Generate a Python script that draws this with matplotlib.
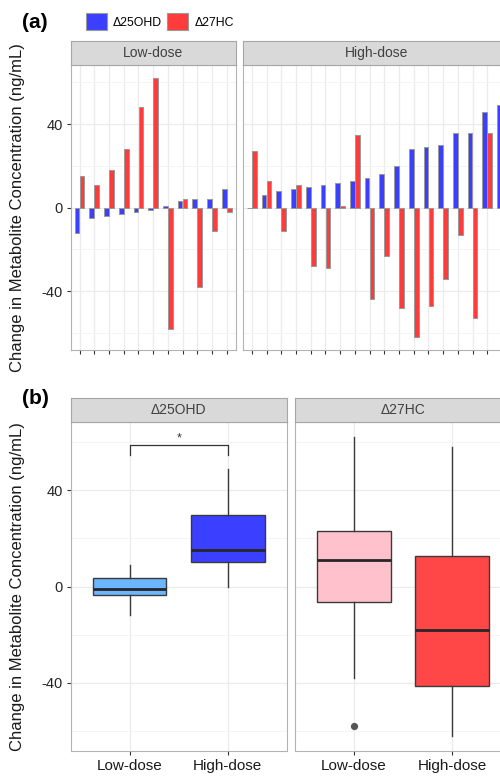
import numpy as np
import matplotlib.pyplot as plt
from matplotlib.patches import Patch

plt.rcParams['font.family'] = ['Liberation Sans', 'DejaVu Sans']
plt.rcParams['axes.unicode_minus'] = False

# per-subject change, panel (a); sorted by change in 25OHD within each dose group
low_25ohd = [-12, -5, -4, -3, -2, -1, 1, 3, 4, 4, 9]
low_27hc = [15, 11, 18, 28, 48, 62, -58, 4, -38, -11, -2]
high_25ohd = [0, 6, 8, 9, 10, 11, 12, 13, 14, 16, 20, 28, 29, 30, 36, 36, 46, 49]
high_27hc = [27, 13, -11, 11, -28, -29, 1, 35, -44, -23, -48, -62, -47, -34, -13, -53, 36, 58]

groups = ["Low-dose", "High-dose"]
metabolites = ["\u039425OHD", "\u039427HC"]
yticks = [-40, 0, 40]

blue = "#3B3FFF"
red = "#FF3B3B"
box_colors = {"\u039425OHD": ["#6CB6FF", "#3B3FFF"],
              "\u039427HC": ["#FFC2CC", "#FF4747"]}

W, H = 500, 781
fig = plt.figure(figsize=(W / 100, H / 100), dpi=100)


def px(x0, y0, x1, y1):
    # pixel box (top-left origin) -> figure fraction rect
    return [x0 / W, 1 - y1 / H, (x1 - x0) / W, (y1 - y0) / H]


def style_panel(ax, show_y):
    ax.set_facecolor("white")
    for s in ax.spines.values():
        s.set_color("#B3B3B3")
        s.set_linewidth(0.8)
    ax.set_ylim(-68.2, 68.2)
    ax.set_yticks(yticks)
    ax.set_yticks([-60, -20, 20, 60], minor=True)
    ax.grid(which="major", color="#EBEBEB", linewidth=0.9)
    ax.grid(which="minor", axis="y", color="#F3F3F3", linewidth=0.6)
    ax.set_axisbelow(True)
    ax.tick_params(which="minor", length=0)
    ax.tick_params(axis="both", which="major", length=3, width=0.8,
                   color="#333333", labelcolor="#262626", labelsize=10.5, pad=2.5)
    if not show_y:
        ax.tick_params(axis="y", left=False, labelleft=False)


def strip(rect, label):
    s = fig.add_axes(rect)
    s.set_facecolor("#D9D9D9")
    s.set_xticks([])
    s.set_yticks([])
    for sp in s.spines.values():
        sp.set_color("#A6A6A6")
        sp.set_linewidth(0.8)
    s.text(0.5, 0.5, label, ha="center", va="center", fontsize=10, color="#404040",
           transform=s.transAxes)


# ---- panel (a) ----
unit = 14.72
bar_w = 0.32
off = 0.17
x_left = 70.7
for i, (g, b_vals, r_vals) in enumerate([("Low-dose", low_25ohd, low_27hc),
                                          ("High-dose", high_25ohd, high_27hc)]):
    n = len(b_vals)
    w = (n + 0.2) * unit
    ax = fig.add_axes(px(x_left, 65.3, x_left + w, 350))
    x = np.arange(n)
    ax.bar(x - off, b_vals, width=bar_w, color=blue, edgecolor="#999999", linewidth=0.7)
    ax.bar(x + off, r_vals, width=bar_w, color=red, edgecolor="#999999", linewidth=0.7)
    ax.set_xlim(-0.6, n - 0.4)
    ax.set_xticks(x)
    ax.set_xticklabels([])
    style_panel(ax, i == 0)
    strip(px(x_left, 40.7, x_left + w, 65.3), g)
    x_left = 243

# ---- panel (b) ----
data_b = {"\u039425OHD": [low_25ohd, high_25ohd],
          "\u039427HC": [low_27hc, high_27hc]}
for i, (m, x0) in enumerate(zip(metabolites, [70.7, 295])):
    ax = fig.add_axes(px(x0, 422.3, x0 + 216, 750.7))
    bp = ax.boxplot(data_b[m], positions=[1, 2], widths=0.75, patch_artist=True,
                    showcaps=False, whis=1.5,
                    boxprops=dict(edgecolor="#3A3A3A", linewidth=1.0),
                    whiskerprops=dict(color="#3A3A3A", linewidth=1.0),
                    medianprops=dict(color="#262626", linewidth=2.0),
                    flierprops=dict(marker="o", markerfacecolor="#555555",
                                    markeredgecolor="#555555", markersize=4.2))
    for patch, c in zip(bp["boxes"], box_colors[m]):
        patch.set_facecolor(c)
    ax.set_xlim(0.4, 2.6)
    ax.set_xticks([1, 2])
    ax.set_xticklabels(groups)
    style_panel(ax, i == 0)
    ax.tick_params(axis="x", labelsize=11, labelcolor="#1A1A1A", pad=3)
    if i == 0:
        ax.plot([1, 1, 2, 2], [54.6, 58.6, 58.6, 54.6], color="#333333", linewidth=0.9)
        ax.text(1.5, 59.2, "*", ha="center", va="bottom", fontsize=9, color="#333333")
    strip(px(x0, 397.7, x0 + 216, 422.3), m)

# axis titles, panel letters, legend
ylab = "Change in Metabolite Concentration (ng/mL)"
fig.text(18 / W, 1 - 207.6 / H, ylab, rotation=90, ha="center", va="center",
         fontsize=12, color="#1A1A1A")
fig.text(18 / W, 1 - 586.5 / H, ylab, rotation=90, ha="center", va="center",
         fontsize=12, color="#1A1A1A")
fig.text(21.7 / W, 1 - 23 / H, "(a)", ha="left", va="center", fontsize=15,
         fontweight="bold")
fig.text(21.7 / W, 1 - 399 / H, "(b)", ha="left", va="center", fontsize=15,
         fontweight="bold")

handles = [Patch(facecolor=blue, edgecolor="#999999", linewidth=0.8),
           Patch(facecolor=red, edgecolor="#999999", linewidth=0.8)]
fig.legend(handles, metabolites, loc="center left",
           bbox_to_anchor=(85.7 / W, 1 - 21.7 / H), ncol=2, frameon=False,
           borderpad=0, borderaxespad=0, handlelength=1.72, handleheight=1.72,
           handletextpad=0.5, columnspacing=0.45, fontsize=8.8)

fig.savefig("out.png", dpi=100)
